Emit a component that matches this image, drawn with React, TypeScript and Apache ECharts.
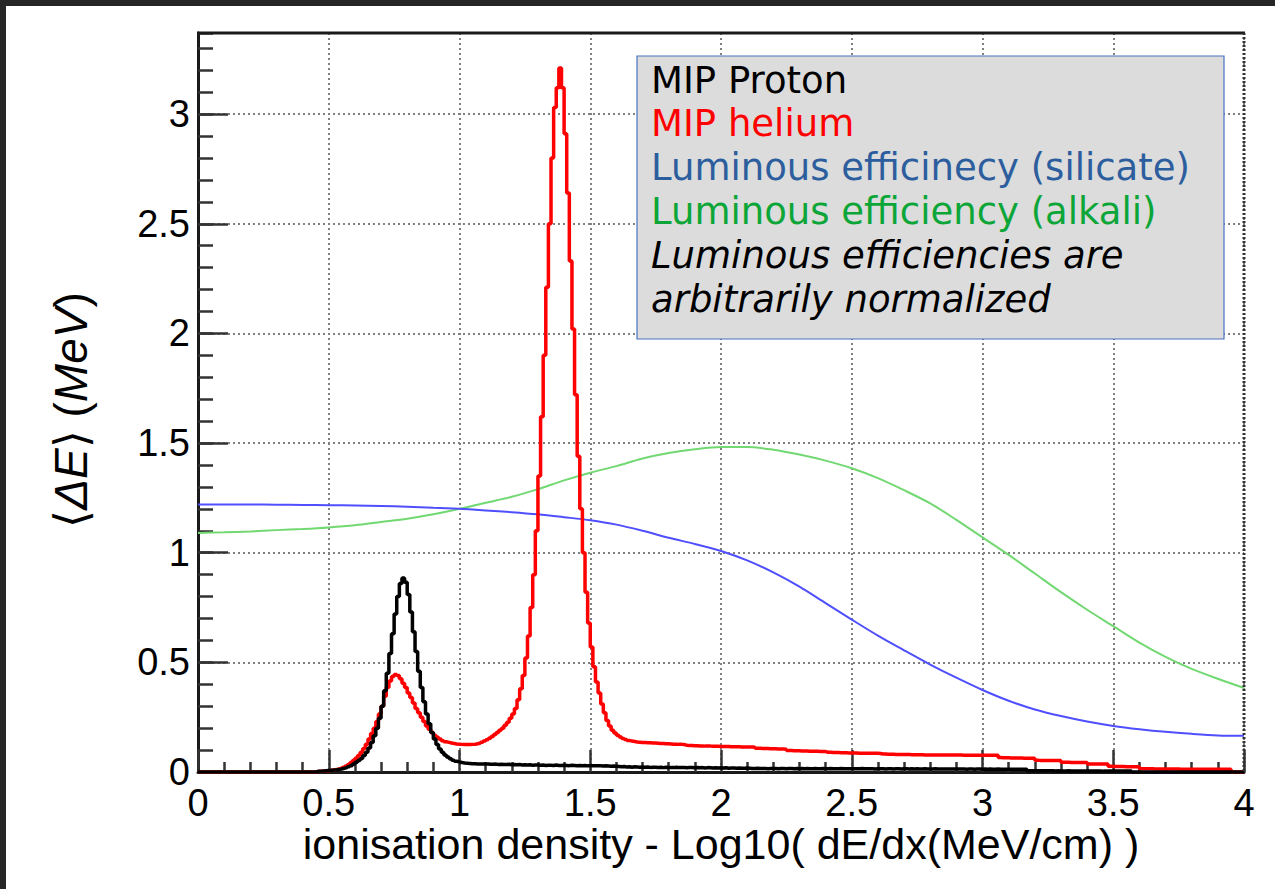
import React, { useEffect, useRef } from "react";
import * as echarts from "echarts";

// ---------------- DATA ----------------
const BIN_WIDTH = 0.01; // histogram bins from 0 to 4
const X_TICKS = [0, 0.5, 1, 1.5, 2, 2.5, 3, 3.5, 4];

// MIP Proton histogram (400 bins, 0.01 wide)
const protonHist: number[] = [
  0, 0, 0, 0, 0, 0, 0, 0, 0, 0,
  0, 0, 0, 0, 0, 0, 0, 0, 0, 0,
  0, 0, 0, 0, 0, 0, 0, 0, 0, 0,
  0, 0, 0, 0, 0, 0, 0, 0, 0, 0,
  0, 0, 0, 0, 0, 0.003, 0.004, 0.005, 0.006, 0.007,
  0.008, 0.009, 0.010, 0.012, 0.014, 0.017, 0.020, 0.024, 0.029, 0.036,
  0.044, 0.052, 0.062, 0.075, 0.090, 0.110, 0.135, 0.165, 0.200, 0.245,
  0.300, 0.370, 0.450, 0.540, 0.630, 0.720, 0.800, 0.860, 0.885, 0.865,
  0.810, 0.730, 0.640, 0.550, 0.460, 0.385, 0.320, 0.265, 0.220, 0.180,
  0.150, 0.125, 0.105, 0.090, 0.078, 0.068, 0.060, 0.054, 0.049, 0.046,
  0.043, 0.041, 0.040, 0.039, 0.038, 0.038, 0.037, 0.037, 0.036, 0.036,
  0.036, 0.035, 0.035, 0.036, 0.034, 0.035, 0.034, 0.034, 0.035, 0.033,
  0.034, 0.033, 0.034, 0.032, 0.033, 0.032, 0.033, 0.031, 0.032, 0.032,
  0.031, 0.032, 0.030, 0.031, 0.031, 0.030, 0.032, 0.030, 0.030, 0.031,
  0.030, 0.029, 0.031, 0.030, 0.029, 0.030, 0.029, 0.030, 0.028, 0.029,
  0.029, 0.028, 0.029, 0.028, 0.027, 0.028, 0.027, 0.026, 0.027, 0.026,
  0.025, 0.024, 0.025, 0.023, 0.024, 0.022, 0.024, 0.023, 0.022, 0.023,
  0.022, 0.023, 0.021, 0.022, 0.022, 0.021, 0.022, 0.020, 0.022, 0.021,
  0.021, 0.020, 0.022, 0.020, 0.021, 0.020, 0.019, 0.021, 0.020, 0.019,
  0.020, 0.019, 0.020, 0.018, 0.020, 0.019, 0.018, 0.019, 0.018, 0.019,
  0.018, 0.019, 0.017, 0.018, 0.018, 0.017, 0.018, 0.017, 0.017, 0.018,
  0.017, 0.016, 0.016, 0.017, 0.016, 0.016, 0.016, 0.015, 0.016, 0.016,
  0.016, 0.015, 0.016, 0.016, 0.015, 0.016, 0.016, 0.015, 0.016, 0.015,
  0.016, 0.015, 0.016, 0.015, 0.015, 0.016, 0.015, 0.015, 0.016, 0.015,
  0.015, 0.016, 0.015, 0.015, 0.015, 0.016, 0.015, 0.015, 0.015, 0.015,
  0.015, 0.015, 0.015, 0.016, 0.015, 0.015, 0.015, 0.015, 0.014, 0.015,
  0.015, 0.015, 0.014, 0.015, 0.015, 0.014, 0.015, 0.015, 0.014, 0.015,
  0.015, 0.014, 0.015, 0.014, 0.015, 0.014, 0.014, 0.015, 0.014, 0.014,
  0.014, 0.015, 0.014, 0.014, 0.014, 0.014, 0.014, 0.014, 0.014, 0.014,
  0.014, 0.014, 0.014, 0.013, 0.014, 0.014, 0.013, 0.014, 0.014, 0.013,
  0.014, 0.013, 0.014, 0.013, 0.013, 0.014, 0.013, 0.013, 0.013, 0.013,
  0.013, 0.013, 0.013, 0.013, 0.013, 0.013, 0.013, 0.006, 0.006, 0.006,
  0.006, 0.006, 0.006, 0.006, 0.006, 0.006, 0.006, 0.005, 0.006, 0.005,
  0.005, 0.005, 0.006, 0.005, 0.005, 0.005, 0.005, 0.005, 0.005, 0.005,
  0.005, 0.005, 0.005, 0.005, 0.005, 0.004, 0.005, 0.004, 0.004, 0.004,
  0.004, 0.004, 0.004, 0.004, 0.004, 0.004, 0.004, 0, 0, 0,
  0, 0, 0, 0, 0, 0, 0, 0, 0, 0,
  0, 0, 0, 0, 0, 0, 0, 0, 0, 0,
  0, 0, 0, 0, 0, 0, 0, 0, 0, 0,
  0, 0, 0, 0, 0, 0, 0, 0, 0, 0,
];

// MIP helium histogram (400 bins, 0.01 wide)
const heliumHist: number[] = [
  0, 0, 0, 0, 0, 0, 0, 0, 0, 0,
  0, 0, 0, 0, 0, 0, 0, 0, 0, 0,
  0, 0, 0, 0, 0, 0, 0, 0, 0, 0,
  0, 0, 0, 0, 0, 0, 0, 0, 0, 0,
  0, 0, 0, 0, 0, 0.002, 0.003, 0.004, 0.005, 0.006,
  0.008, 0.009, 0.011, 0.014, 0.017, 0.021, 0.026, 0.033, 0.042, 0.052,
  0.063, 0.075, 0.090, 0.107, 0.127, 0.150, 0.175, 0.200, 0.230, 0.265,
  0.300, 0.345, 0.385, 0.415, 0.435, 0.445, 0.440, 0.425, 0.405, 0.385,
  0.360, 0.340, 0.315, 0.290, 0.270, 0.250, 0.230, 0.210, 0.195, 0.180,
  0.168, 0.158, 0.150, 0.143, 0.138, 0.135, 0.132, 0.130, 0.128, 0.127,
  0.126, 0.125, 0.125, 0.125, 0.126, 0.127, 0.129, 0.132, 0.136, 0.141,
  0.147, 0.154, 0.162, 0.171, 0.180, 0.190, 0.200, 0.213, 0.227, 0.245,
  0.265, 0.290, 0.330, 0.380, 0.440, 0.520, 0.620, 0.750, 0.900, 1.100,
  1.350, 1.620, 1.900, 2.210, 2.500, 2.800, 3.030, 3.120, 3.210, 3.120,
  2.910, 2.640, 2.330, 2.020, 1.720, 1.440, 1.200, 1.000, 0.820, 0.680,
  0.570, 0.480, 0.410, 0.360, 0.310, 0.270, 0.235, 0.210, 0.190, 0.178,
  0.168, 0.160, 0.153, 0.148, 0.144, 0.141, 0.139, 0.137, 0.136, 0.135,
  0.134, 0.133, 0.133, 0.132, 0.132, 0.131, 0.130, 0.130, 0.129, 0.129,
  0.128, 0.127, 0.127, 0.126, 0.126, 0.125, 0.122, 0.121, 0.121, 0.120,
  0.120, 0.119, 0.119, 0.118, 0.118, 0.118, 0.117, 0.117, 0.117, 0.116,
  0.116, 0.116, 0.116, 0.115, 0.115, 0.115, 0.115, 0.114, 0.114, 0.114,
  0.114, 0.114, 0.113, 0.108, 0.108, 0.107, 0.107, 0.107, 0.106, 0.106,
  0.106, 0.105, 0.105, 0.105, 0.104, 0.098, 0.098, 0.097, 0.097, 0.097,
  0.096, 0.096, 0.096, 0.095, 0.095, 0.095, 0.095, 0.094, 0.094, 0.093,
  0.090, 0.090, 0.089, 0.089, 0.089, 0.088, 0.088, 0.088, 0.087, 0.087,
  0.087, 0.087, 0.086, 0.086, 0.086, 0.086, 0.085, 0.085, 0.085, 0.085,
  0.084, 0.082, 0.082, 0.081, 0.081, 0.081, 0.080, 0.080, 0.080, 0.080,
  0.080, 0.080, 0.079, 0.079, 0.079, 0.079, 0.079, 0.078, 0.078, 0.078,
  0.078, 0.078, 0.078, 0.078, 0.078, 0.077, 0.077, 0.077, 0.077, 0.077,
  0.077, 0.077, 0.076, 0.076, 0.076, 0.076, 0.076, 0.076, 0.076, 0.076,
  0.076, 0.076, 0.076, 0.076, 0.076, 0.076, 0.066, 0.065, 0.065, 0.065,
  0.064, 0.064, 0.064, 0.064, 0.064, 0.063, 0.063, 0.063, 0.063, 0.063,
  0.054, 0.053, 0.053, 0.053, 0.052, 0.052, 0.052, 0.052, 0.052, 0.052,
  0.044, 0.044, 0.044, 0.043, 0.043, 0.043, 0.043, 0.043, 0.043, 0.043,
  0.037, 0.037, 0.036, 0.036, 0.036, 0.036, 0.036, 0.036, 0.026, 0.026,
  0.025, 0.025, 0.025, 0.025, 0.024, 0.024, 0.024, 0.024, 0.024, 0.024,
  0.015, 0.015, 0.015, 0.015, 0.015, 0.014, 0.014, 0.014, 0.014, 0.014,
  0.014, 0.014, 0.014, 0.014, 0.014, 0.013, 0.013, 0.013, 0.013, 0.013,
  0.013, 0.013, 0.013, 0.013, 0.013, 0.013, 0.012, 0.012, 0.012, 0.012,
  0.012, 0.012, 0.012, 0.012, 0.012, 0, 0, 0, 0, 0,
];

// Luminous efficiency curves, sampled every 0.1
const curveX: number[] = [
  0.0, 0.1, 0.2, 0.3, 0.4, 0.5, 0.6, 0.7, 0.8, 0.9,
  1.0, 1.1, 1.2, 1.3, 1.4, 1.5, 1.6, 1.7, 1.8, 1.9,
  2.0, 2.1, 2.2, 2.3, 2.4, 2.5, 2.6, 2.7, 2.8, 2.9,
  3.0, 3.1, 3.2, 3.3, 3.4, 3.5, 3.6, 3.7, 3.8, 3.9, 4.0,
];
const silicateEff: number[] = [
  1.220, 1.220, 1.220, 1.219, 1.218, 1.217, 1.215, 1.213, 1.210, 1.205,
  1.200, 1.193, 1.185, 1.175, 1.162, 1.148, 1.128, 1.100, 1.068, 1.040,
  1.008, 0.965, 0.910, 0.845, 0.770, 0.695, 0.622, 0.555, 0.490, 0.430,
  0.374, 0.325, 0.285, 0.255, 0.230, 0.210, 0.195, 0.183, 0.174, 0.167, 0.165,
];
const alkaliEff: number[] = [
  1.090, 1.093, 1.097, 1.103, 1.108, 1.115, 1.125, 1.140, 1.155, 1.175,
  1.200, 1.228, 1.255, 1.290, 1.330, 1.365, 1.395, 1.430, 1.455, 1.472,
  1.482, 1.482, 1.470, 1.448, 1.420, 1.385, 1.340, 1.285, 1.225, 1.150,
  1.070, 0.990, 0.905, 0.820, 0.740, 0.665, 0.590, 0.525, 0.470, 0.425, 0.383,
];

const legendLines = [
  { text: "MIP Proton", color: "#000000", italic: false },
  { text: "MIP helium", color: "#ff0000", italic: false },
  { text: "Luminous efficinecy (silicate)", color: "#2c5e9e", italic: false },
  { text: "Luminous efficiency (alkali)", color: "#0ca638", italic: false },
  { text: "Luminous efficiencies are", color: "#000000", italic: true },
  { text: "arbitrarily normalized", color: "#000000", italic: true },
];

const X_TITLE = "ionisation density - Log10( dE/dx(MeV/cm) )";
const Y_MAX = 3.37;

function histToSteps(h: number[]): number[][] {
  const pts: number[][] = h.map((v, i) => [+(i * BIN_WIDTH).toFixed(2), v]);
  pts.push([4, h[h.length - 1]]);
  return pts;
}

export default function App() {
  const ref = useRef<HTMLDivElement>(null);
  useEffect(() => {
    if (!ref.current) return;
    const chart = echarts.init(ref.current, null, { renderer: "svg" });
    const tickFont = '"Liberation Sans", Arial, Helvetica, sans-serif';
    const legendFont = '"DejaVu Sans", Verdana, sans-serif';
    const gridLine = { show: true, lineStyle: { color: "#808080", width: 2, type: [2, 3] as any } };

    const legendGraphics: any[] = legendLines.map((l, i) => ({
      type: "text",
      x: 651,
      y: 80 + i * 43.8,
      z: 101,
      style: {
        text: l.text,
        fill: l.color,
        font: `${l.italic ? "italic " : ""}37px ${legendFont}`,
        lineHeight: 40,
        align: "left",
        verticalAlign: "middle",
      },
    }));

    chart.setOption({
      animation: false,
      backgroundColor: "#ffffff",
      grid: { left: 198, right: 31, top: 33, bottom: 117, containLabel: false },
      xAxis: {
        type: "value",
        min: 0,
        max: 4,
        interval: 0.5,
        axisLine: { show: true, onZero: false, lineStyle: { color: "#1a1a1a", width: 3 } },
        axisTick: { show: true, inside: true, length: 22, lineStyle: { color: "#333", width: 2.5 } },
        minorTick: { show: true, splitNumber: 5, length: 10, lineStyle: { color: "#333", width: 2.5 } },
        axisLabel: {
          show: true,
          fontFamily: tickFont,
          fontSize: 38,
          lineHeight: 28,
          color: "#000",
          margin: 17,
          formatter: (v: number) => (X_TICKS.indexOf(v) >= 0 ? String(v) : ""),
        },
        splitLine: gridLine,
      },
      yAxis: [
        {
          type: "value",
          min: 0,
          max: Y_MAX,
          interval: 0.5,
          axisLine: { show: true, onZero: false, lineStyle: { color: "#1a1a1a", width: 3 } },
          axisTick: { show: true, inside: true, length: 30, lineStyle: { color: "#333", width: 2.5 } },
          axisLabel: {
            show: true,
            fontFamily: tickFont,
            fontSize: 38,
            lineHeight: 30,
            color: "#000",
            margin: 8,
            showMaxLabel: false,
          },
          splitLine: gridLine,
        },
        {
          type: "value",
          position: "left",
          min: 0,
          max: Y_MAX,
          interval: 0.1,
          axisLine: { show: false },
          axisTick: { show: true, inside: true, length: 15, lineStyle: { color: "#333", width: 2.5 } },
          axisLabel: { show: false },
          splitLine: { show: false },
        },
      ],
      series: [
        {
          name: "Luminous efficiency (alkali)",
          type: "line",
          data: curveX.map((x, i) => [x, alkaliEff[i]]),
          showSymbol: false,
          smooth: 0.3,
          lineStyle: { color: "#72d872", width: 2 },
          z: 2,
        },
        {
          name: "Luminous efficinecy (silicate)",
          type: "line",
          data: curveX.map((x, i) => [x, silicateEff[i]]),
          showSymbol: false,
          smooth: 0.3,
          lineStyle: { color: "#4f4fff", width: 2 },
          z: 3,
        },
        {
          name: "MIP helium",
          type: "line",
          step: "end",
          data: histToSteps(heliumHist),
          showSymbol: false,
          lineStyle: { color: "#ff0000", width: 3.5 },
          z: 4,
        },
        {
          name: "MIP Proton",
          type: "line",
          step: "end",
          data: histToSteps(protonHist),
          showSymbol: false,
          lineStyle: { color: "#000000", width: 3.5 },
          z: 5,
        },
      ],
      graphic: [
        { type: "rect", shape: { x: 0, y: 0, width: 1275, height: 6 }, style: { fill: "#262626" }, z: 100 },
        { type: "rect", shape: { x: 0, y: 0, width: 6, height: 889 }, style: { fill: "#262626" }, z: 100 },
        {
          type: "line",
          shape: { x1: 197, y1: 33, x2: 1245, y2: 33 },
          style: { stroke: "#1a1a1a", lineWidth: 3 },
          z: 100,
        },
        {
          type: "line",
          shape: { x1: 1244, y1: 33, x2: 1244, y2: 772 },
          style: { stroke: "#333", lineWidth: 3, lineDash: [2, 2] },
          z: 100,
        },
        {
          type: "rect",
          shape: { x: 637, y: 56, width: 587, height: 283 },
          style: { fill: "#dcdcdc", stroke: "#4a72c0", lineWidth: 1.2 },
          z: 100,
        },
        ...legendGraphics,
        {
          type: "text",
          x: 721,
          y: 844,
          z: 101,
          style: {
            text: X_TITLE,
            fill: "#000",
            font: `43px ${tickFont}`,
            lineHeight: 34,
            align: "center",
            verticalAlign: "middle",
          },
        },
        {
          type: "text",
          x: 71,
          y: 410,
          rotation: Math.PI / 2,
          z: 101,
          style: {
            text: "{n|⟨}{i|ΔE}{n|⟩ (}{i|MeV}{n|)}",
            fill: "#000",
            align: "center",
            verticalAlign: "middle",
            rich: {
              n: { font: `46px ${tickFont}`, fill: "#000" },
              i: { font: `italic 46px ${tickFont}`, fill: "#000" },
            },
          },
        },
      ],
    });
    return () => chart.dispose();
  }, []);
  return (
    <div
      ref={ref}
      style={{ position: "absolute", left: 0, top: 0, width: 1275, height: 889, background: "#fff" }}
    />
  );
}
